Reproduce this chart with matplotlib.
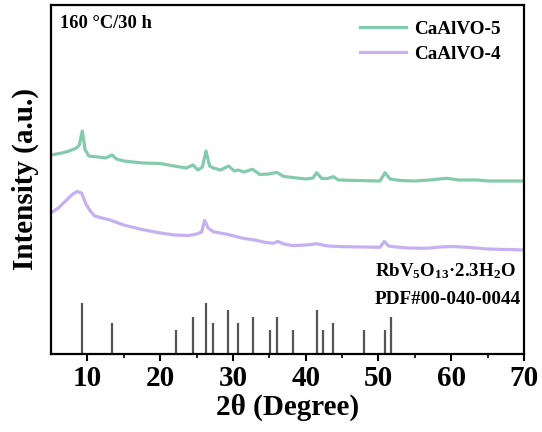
import matplotlib
matplotlib.use("Agg")
import matplotlib.pyplot as plt

plt.rcParams["font.family"] = ["Liberation Serif", "DejaVu Serif"]
plt.rcParams["font.weight"] = "bold"
plt.rcParams["mathtext.fontset"] = "custom"
plt.rcParams["mathtext.rm"] = "Liberation Serif:bold"
plt.rcParams["mathtext.bf"] = "Liberation Serif:bold"
plt.rcParams["mathtext.default"] = "rm"

# XRD pattern of CaAlVO-5 (2theta, intensity a.u.)
tt_5 = [5.0, 6.5, 7.5, 8.5, 8.9, 9.3, 9.7, 10.2, 11.5, 12.5, 13.4, 14.0, 15.0, 17.6,
        20.0, 22.3, 23.6, 24.5, 25.2, 25.8, 26.3, 26.8, 27.3, 28.3, 29.4, 30.2, 30.7,
        31.5, 32.7, 33.7, 35.0, 36.0, 37.0, 38.0, 40.0, 41.0, 41.5, 42.2, 43.0, 43.8,
        44.5, 47.0, 50.2, 50.9, 51.6, 53.0, 55.0, 57.0, 59.4, 61.0, 63.7, 65.0, 70.0]
int_5 = [199, 201, 203, 206, 209, 223, 204, 198, 197, 196, 199, 195, 193, 191,
         190.5, 187.5, 186, 189, 184, 187, 203, 188, 186, 184, 188, 183, 184,
         182, 184.7, 179.5, 180, 181.7, 177.5, 176.7, 175, 176, 181.3, 175.5, 175.5, 177.3,
         174, 173.5, 173, 181.3, 175, 173.5, 173, 174, 175.7, 174, 174, 173, 173]

# XRD pattern of CaAlVO-4
tt_4 = [5.0, 6.0, 7.0, 8.0, 8.6, 9.2, 9.8, 10.4, 11.0, 12.0, 13.1, 15.0, 17.5, 20.0,
        22.0, 24.0, 25.0, 25.7, 26.1, 26.6, 27.3, 29.0, 31.4, 33.0, 34.5, 35.5, 36.2,
        37.0, 38.3, 40.0, 41.5, 43.0, 45.2, 48.0, 50.2, 50.8, 51.4, 52.0, 54.0, 56.6,
        58.5, 60.3, 62.5, 65.0, 70.0]
int_4 = [141, 146, 153, 160, 162.5, 161, 150, 143, 138, 136, 134, 129, 124.5, 121,
         119, 118.5, 120, 122, 133.5, 126, 122.3, 120, 115.7, 114, 111.5, 110.7, 112.5,
         110, 108.3, 109, 110.2, 108, 107.3, 107, 106.7, 112.5, 108, 107.3, 106, 105.7,
         107, 107.5, 106.5, 105, 104]

# Reference card RbV5O13·2.3H2O, PDF#00-040-0044 (2theta, relative intensity %)
ref_tt = [9.3, 13.35, 22.2, 24.5, 26.25, 27.25, 29.35, 30.65, 32.8, 35.1, 36.0,
          38.2, 41.6, 42.4, 43.8, 48.0, 50.95, 51.7]
ref_int = [100, 61, 47, 73, 100, 61, 86, 61, 73, 47, 73,
           47, 86, 47, 61, 47, 47, 73]
ref_scale = 0.51

green = "#84CBAE"
purple = "#C6B0F2"

fig = plt.figure(figsize=(5.42, 4.32), dpi=100)
ax = fig.add_axes([0.0941, 0.1806, 0.8727, 0.8078])

ax.plot(tt_5, int_5, color=green, lw=2.3, label="CaAlVO-5", solid_joinstyle="round")
ax.plot(tt_4, int_4, color=purple, lw=2.3, label="CaAlVO-4", solid_joinstyle="round")
ax.vlines(ref_tt, 0, [v * ref_scale for v in ref_int], color="#555555", lw=1.6)

ax.set_xlim(5, 70)
ax.set_ylim(0, 349)
ax.set_xticks([10, 20, 30, 40, 50, 60, 70])
ax.set_xticks([15, 25, 35, 45, 55, 65], minor=True)
ax.set_yticks([])
for lbl in ax.get_xticklabels():
    lbl.set_fontweight("bold")
ax.tick_params(axis="x", which="major", direction="out", length=5, width=1.5,
               labelsize=21, pad=3)
ax.tick_params(axis="x", which="minor", direction="out", length=3, width=1.2)
for sp in ax.spines.values():
    sp.set_linewidth(1.6)

ax.set_xlabel("2θ (Degree)", fontsize=21, fontweight="bold", labelpad=1)
ax.set_ylabel("Intensity (a.u.)", fontsize=21, fontweight="bold", labelpad=9)

ax.text(0.019, 0.972, "160 °C/30 h", transform=ax.transAxes, fontsize=13.3,
        fontweight="bold", va="top", ha="left")

ax.text(0.685, 0.222, r"RbV$_5$O$_{13}$·2.3H$_2$O", transform=ax.transAxes,
        fontsize=13.6, fontweight="bold", va="baseline", ha="left")
ax.text(0.685, 0.143, "PDF#00-040-0044", transform=ax.transAxes,
        fontsize=13.8, fontweight="bold", va="baseline", ha="left")

leg = ax.legend(loc="upper right", bbox_to_anchor=(0.987, 1.006), frameon=False,
                prop={"size": 13.8, "weight": "bold"}, handlelength=2.4,
                handletextpad=0.4, labelspacing=0.42)
for line in leg.get_lines():
    line.set_linewidth(2.3)

fig.savefig("out.png", dpi=100)
